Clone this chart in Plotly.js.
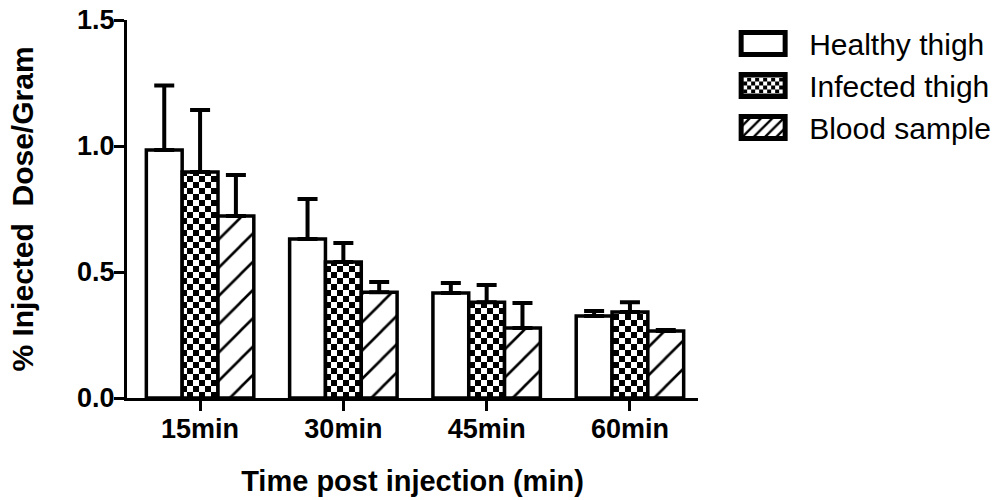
<!DOCTYPE html>
<html>
<head>
<meta charset="utf-8">
<script src="https://cdn.plot.ly/plotly-3.0.1.min.js"></script>
<style>
  html, body { margin: 0; padding: 0; background: #fff; }
  #chart { width: 1003px; height: 500px; }
</style>
</head>
<body>
<div id="chart"></div>
<script>
// ---- Data ----
var categories = ['15min', '30min', '45min', '60min'];
var seriesNames = ['Healthy thigh', 'Infected thigh', 'Blood sample'];
var healthy = [0.984, 0.631, 0.417, 0.325];
var healthyErr = [0.256, 0.159, 0.039, 0.020];
var infected = [0.897, 0.540, 0.380, 0.341];
var infectedErr = [0.246, 0.075, 0.068, 0.039];
var blood = [0.722, 0.420, 0.278, 0.266];
var bloodErr = [0.163, 0.040, 0.099, 0.004];
var yTickVals = [0, 0.5, 1.0, 1.5];
var yTickText = ['0.0', '0.5', '1.0', '1.5'];

var zeros = categories.map(function () { return 0; });
var FONT = 'Liberation Sans, Arial, sans-serif';

function barTrace(name, y, err, pattern) {
  return {
    type: 'bar',
    name: name,
    x: categories,
    y: y,
    marker: {
      color: '#ffffff',
      line: { color: '#000000', width: 3.5 },
      pattern: pattern
    },
    error_y: {
      type: 'data',
      symmetric: false,
      array: err,
      arrayminus: zeros,
      color: '#000000',
      thickness: 4,
      width: 10
    },
    hoverinfo: 'skip'
  };
}

var traces = [
  barTrace(seriesNames[0], healthy, healthyErr, { shape: '' }),
  barTrace(seriesNames[1], infected, infectedErr, { shape: '+', size: 12, solidity: 0.5, fgcolor: '#000000', bgcolor: '#ffffff', fgopacity: 1, fillmode: 'replace' }),
  barTrace(seriesNames[2], blood, bloodErr, { shape: '/', size: 20, solidity: 0.13, fgcolor: '#000000', bgcolor: '#ffffff', fgopacity: 1, fillmode: 'replace' })
];

var layout = {
  width: 1003,
  height: 500,
  margin: { l: 127, r: 305, t: 20, b: 102 },
  paper_bgcolor: '#ffffff',
  plot_bgcolor: '#ffffff',
  barmode: 'group',
  bargap: 0.25,
  bargroupgap: 0,
  font: { family: FONT, color: '#000000' },
  showlegend: true,
  legend: {
    xref: 'container', yref: 'container',
    x: 0.715, y: 0.965,
    xanchor: 'left', yanchor: 'top',
    font: { family: FONT, size: 30, color: '#000000' },
    itemwidth: 82,
    bgcolor: 'rgba(0,0,0,0)',
    tracegroupgap: 0
  },
  xaxis: {
    type: 'category',
    range: [-0.51, 3.475],
    showline: true, linecolor: '#000000', linewidth: 3,
    ticks: 'outside', ticklen: 10, tickwidth: 3, tickcolor: '#000000',
    ticklabelstandoff: -5,
    showgrid: false, zeroline: false,
    tickfont: { family: FONT, size: 27, weight: 'bold', color: '#000000' },
    title: { text: 'Time post injection (min)', font: { family: FONT, size: 29, weight: 'bold', color: '#000000' }, standoff: 28 },
    fixedrange: true
  },
  yaxis: {
    range: [0, 1.5],
    tickvals: yTickVals,
    ticktext: yTickText,
    showline: true, linecolor: '#000000', linewidth: 3,
    ticks: 'outside', ticklen: 10, tickwidth: 3, tickcolor: '#000000',
    ticklabelstandoff: -6,
    showgrid: false, zeroline: false,
    tickfont: { family: FONT, size: 27, weight: 'bold', color: '#000000' },
    title: { text: '% Injected\u00A0 Dose/Gram', font: { family: FONT, size: 30, weight: 'bold', color: '#000000' }, standoff: 35 },
    fixedrange: true
  }
};

function makeChecker(p) {
  var SVGNS = 'http://www.w3.org/2000/svg';
  if (!p || p.getAttribute('data-checker')) return;
  p.setAttribute('data-checker', '1');
  var w = parseFloat(p.getAttribute('width')) || 12;
  var s = w / 2;
  while (p.firstChild) p.removeChild(p.firstChild);
  var bg = document.createElementNS(SVGNS, 'rect');
  bg.setAttribute('x', 0); bg.setAttribute('y', 0);
  bg.setAttribute('width', w); bg.setAttribute('height', w);
  bg.setAttribute('fill', '#ffffff');
  p.appendChild(bg);
  [[0, 0], [s, s]].forEach(function (xy) {
    var r = document.createElementNS(SVGNS, 'rect');
    r.setAttribute('x', xy[0]); r.setAttribute('y', xy[1]);
    r.setAttribute('width', s); r.setAttribute('height', s);
    r.setAttribute('fill', '#000000');
    p.appendChild(r);
  });
}

function patternOf(el) {
  var f = el.style.fill || el.getAttribute('fill') || '';
  var m = f.match(/url\(["']?#([^"')]+)["']?\)/);
  if (!m) return null;
  return document.getElementById(m[1]);
}

function fixStyles(gd) {
  // Checkerboard for the 'Infected thigh' bars
  var barTraces = gd.querySelectorAll('.barlayer .trace');
  if (barTraces[1]) {
    barTraces[1].querySelectorAll('path').forEach(function (el) { makeChecker(patternOf(el)); });
  }
  var legTraces = gd.querySelectorAll('.legend .traces');
  if (legTraces[1]) {
    legTraces[1].querySelectorAll('.legendpoints path').forEach(function (el) { makeChecker(patternOf(el)); });
  }
  // Bolder hatch in the legend swatch
  if (legTraces[2]) {
    legTraces[2].querySelectorAll('.legendpoints path').forEach(function (el) {
      var p = patternOf(el);
      if (!p) return;
      p.querySelectorAll('path').forEach(function (ln) {
        ln.style.strokeWidth = '3px';
        ln.setAttribute('stroke-width', '3px');
        ln.style.opacity = 1;
        ln.setAttribute('opacity', 1);
        ln.setAttribute('stroke', '#000000');
        ln.style.stroke = '#000000';
      });
    });
  }
  // Enlarge legend symbols to wide boxes
  gd.querySelectorAll('.legendpoints path').forEach(function (el) {
    el.setAttribute('d', 'M22,11H-22V-11H22Z');
    el.style.strokeWidth = '5px';
  });
}

Plotly.newPlot('chart', traces, layout, { staticPlot: true, displayModeBar: false })
  .then(fixStyles);
</script>
</body>
</html>
